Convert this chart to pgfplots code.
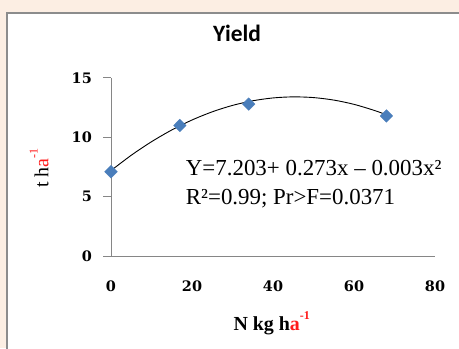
\documentclass[border=0pt]{standalone}
\usepackage{pgfplots}
\pgfplotsset{compat=1.18}
\usepackage{fontspec}
\setmainfont{Liberation Serif}
\newfontfamily\tickfont{DejaVu Serif}
\newfontfamily\titlefont{Carlito}
\definecolor{bgbeige}{HTML}{FCEEE3}
\definecolor{axgray}{HTML}{868686}
\definecolor{framegray}{HTML}{8C8C8C}
\definecolor{mkblue}{HTML}{4A7EBB}
\definecolor{labred}{HTML}{FF1A1A}
\begin{document}
\begin{tikzpicture}[x=1bp,y=1bp]
\useasboundingbox (0,0) rectangle (459,348);
\clip (0,0) rectangle (459,348);
\fill[bgbeige] (0,0) rectangle (459,348);
\draw[framegray, line width=1.5bp, fill=white] (7,335) rectangle (470,-10);
\begin{axis}[
  at={(111bp,92bp)}, anchor=south west,
  scale only axis, width=324bp, height=178bp,
  xmin=0, xmax=80, ymin=0, ymax=15,
  clip=false,
  axis x line=bottom, axis y line=left,
  axis line style={axgray, line width=1bp, -},
  xtick={0,20,40,60,80}, ytick={0,5,10,15},
  tick align=outside,
  major tick length=8bp,
  ytick style={axgray, line width=1bp},
  xtick style={draw=none},
  /pgf/number format/assume math mode=true,
  ticklabel style={font=\tickfont\bfseries\fontsize{14.5}{16}\selectfont},
  xticklabel style={anchor=base, yshift=-27bp},
  yticklabel style={anchor=east, inner sep=0pt, xshift=-11bp},
  title={\titlefont\bfseries\fontsize{23.5}{26}\selectfont Yield},
  title style={at={(axis description cs:0.389,1.171)}, anchor=base, inner sep=0pt},
  xlabel={\bfseries\fontsize{20}{22}\selectfont N kg h\textcolor{labred}{a\raisebox{0.55em}{\fontsize{12}{12}\selectfont -1}}},
  xlabel style={at={(axis description cs:0.496,-0.416)}, anchor=base, inner sep=0pt},
  ylabel={\fontsize{20}{22}\selectfont t h\textcolor{labred}{a\raisebox{0.55em}{\fontsize{12}{12}\selectfont -1}}},
  ylabel style={at={(axis description cs:-0.193,0.494)}, anchor=base, inner sep=0pt},
]
\addplot[black, line width=0.9bp, smooth, mark=none] coordinates {
  (0,7.20) (5,8.49) (10,9.63) (15,10.62) (20,11.46) (25,12.15) (30,12.69)
  (35,13.08) (40,13.32) (45,13.41) (50,13.35) (55,13.14) (60,12.78)
  (65,12.27) (68,11.90)
};
\addplot[only marks, mark=diamond*, mark size=6.3bp,
  mark options={xscale=1.33, fill=mkblue, draw=mkblue}] coordinates {
  (0,7.1) (17,11.0) (34,12.8) (68,11.8)
};
\node[anchor=base west, inner sep=0pt, font=\fontsize{23}{25}\selectfont]
  at (axis description cs:0.2306,0.455) {Y=7.203+ 0.273x – 0.003x²};
\node[anchor=base west, inner sep=0pt, font=\fontsize{23}{25}\selectfont]
  at (axis description cs:0.2306,0.292) {R²=0.99; Pr>F=0.0371};
\end{axis}
\end{tikzpicture}
\end{document}
